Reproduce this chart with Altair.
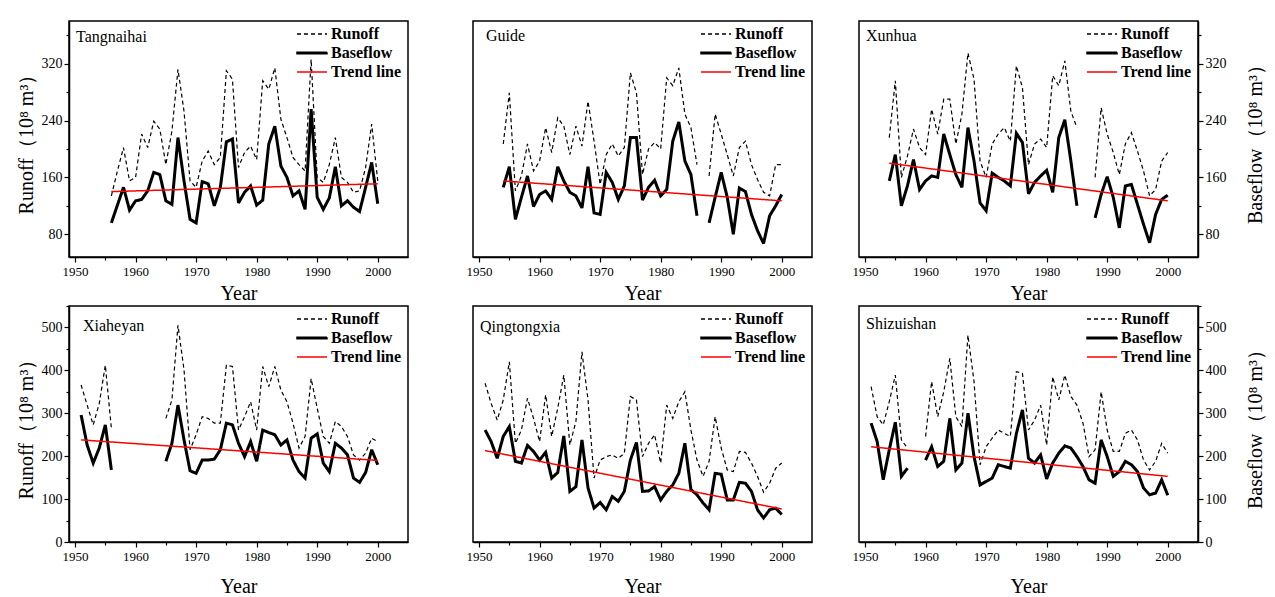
import altair as alt
import pandas as pd

FONT = "Liberation Serif"
SERIES = ["Runoff", "Baseflow", "Trend line"]

# ---------------- data ----------------
tang_years = list(range(1956, 2001))
tang_runoff = [134, 169, 202, 155, 160, 221, 202, 239, 228, 178, 225, 312, 253, 155, 146,
               183, 197, 178, 188, 310, 298, 174, 195, 204, 185, 296, 284, 314, 242, 216,
               188, 178, 169, 326, 160, 153, 178, 216, 160, 153, 139, 141, 174, 235, 155]
tang_base = [96, 121, 146, 114, 127, 129, 141, 167, 164, 127, 122, 216, 155, 101, 96,
             154, 151, 120, 146, 210, 214, 124, 139, 148, 121, 128, 207, 232, 176, 160,
             134, 141, 115, 256, 132, 115, 131, 175, 120, 127, 118, 112, 146, 181, 123]
tang_trend_years = [1956, 2000]
tang_trend = [140, 151]

guide_years = list(range(1954, 2001))
guide_runoff = [207, 279, 141, 162, 207, 169, 183, 230, 195, 244, 232, 192, 232, 204, 267,
                211, 150, 192, 207, 190, 202, 307, 279, 164, 200, 209, 200, 300, 289, 314,
                249, 230, 178, None, 162, 249, 221, 192, 162, 202, 211, 178, 157, 139, 134,
                178, 178]
guide_base = [146, 175, 101, 132, 162, 119, 136, 141, 129, 175, 155, 139, 134, 117, 175,
              110, 108, 167, 153, 129, 148, 216, 216, 128, 146, 156, 134, 143, 211, 238,
              183, 164, 106, None, 96, 132, 167, 132, 80, 145, 140, 108, 85, 67, 106,
              120, 136]
guide_trend_years = [1954, 2000]
guide_trend = [155, 127]

xun_years = list(range(1954, 2001))
xun_runoff = [216, 296, 160, 190, 228, 202, 192, 256, 221, 270, 270, 207, 249, 335, 298,
              183, 160, 207, 221, 230, 211, 317, 286, 178, 207, 214, 202, 303, 289, 324,
              253, 230, None, None, 160, 258, 221, 195, 164, 207, 223, 197, 169, 134, 143,
              183, 195]
xun_base = [155, 192, 120, 148, 185, 143, 155, 162, 160, 221, 192, 164, 146, 230, 183,
            124, 113, 166, 160, 155, 148, 222, 209, 137, 153, 162, 170, 139, 216, 241,
            183, 120, None, None, 103, 136, 161, 132, 89, 148, 150, 122, 94, 68, 108,
            129, 135]
xun_trend_years = [1954, 2000]
xun_trend = [180, 127]

xia_years = list(range(1951, 2001))
xia_runoff = [366, 319, 273, 323, 412, 265, None, None, None, None, None, None, None, None,
              288, 331, 505, 401, 215, 250, 292, 288, 277, 277, 412, 409, 261, 292, 327, 261,
              409, 362, 409, 354, 327, 277, 219, 246, 381, 312, 246, 230, 281, 269, 246,
              203, 191, 207, 242, 234]
xia_base = [296, 226, 184, 219, 273, 168, None, None, None, None, None, None, None, None,
            188, 230, 319, 238, 166, 160, 191, 191, 193, 215, 277, 273, 230, 199, 234, 188,
            261, 255, 250, 226, 238, 191, 164, 149, 242, 252, 184, 164, 230, 219, 203,
            149, 139, 162, 215, 180]
xia_trend_years = [1951, 2000]
xia_trend = [238, 190]

qing_years = list(range(1951, 2001))
qing_runoff = [370, 323, 284, 331, 420, 230, 261, 335, 288, 234,
               343, 246, 312, 389, 226, 281, 443, 331, 149, 191,
               199, 203, 195, 207, 339, 331, 199, 230, 250, 184,
               319, 288, 327, 350, 261, 191, 153, 188, 292, 219,
               168, 164, 211, 209, 184, 153, 116, 137, 172, 184]
qing_base = [261, 234, 195, 246, 269, 188, 184, 225, 211, 191,
             209, 149, 162, 247, 118, 129, 238, 126, 79, 92,
             75, 106, 95, 118, 191, 232, 118, 119, 129, 98,
             118, 133, 160, 230, 122, 110, 91, 75, 160, 158,
             98, 98, 139, 137, 118, 75, 56, 75, 79, 64]
qing_trend_years = [1951, 2000]
qing_trend = [213, 77]

shi_years = list(range(1951, 2001))
shi_runoff = [362, 292, 273, 327, 389, 238, 219, None, None,
              246, 374, 292, 350, 428, 292, 269, 482, 374, 180, 222,
              242, 261, 253, 246, 397, 393, 261, 284, 319, 226,
              385, 331, 389, 339, 319, 277, 199, 215, 350, 261,
              211, 211, 253, 261, 238, 191, 168, 188, 230, 207]
shi_base = [277, 234, 145, 215, 279, 153, 172, None, None,
            191, 222, 176, 188, 288, 168, 184, 300, 199, 133, 141,
            149, 180, 176, 172, 253, 308, 195, 184, 203, 147,
            184, 207, 224, 219, 199, 176, 145, 137, 238, 199,
            153, 164, 188, 180, 164, 126, 110, 114, 145, 109]
shi_trend_years = [1951, 2000]
shi_trend = [222, 153]

WIDTHS = {"Runoff": 1.2, "Baseflow": 3.0, "Trend line": 1.5}


def build_df(years, runoff, base, t_years, trend):
    rows = []
    for y, v in zip(years, runoff):
        rows.append({"year": y, "series": "Runoff", "value": v, "w": WIDTHS["Runoff"]})
    for y, v in zip(years, base):
        rows.append({"year": y, "series": "Baseflow", "value": v, "w": WIDTHS["Baseflow"]})
    for y, v in zip(t_years, trend):
        rows.append({"year": y, "series": "Trend line", "value": v, "w": WIDTHS["Trend line"]})
    return pd.DataFrame(rows)


def make_legend():
    return alt.Legend(
        title=None, orient="none", legendX=232, legendY=2, padding=0,
        symbolType={"expr": "datum.value === 'Baseflow' ? 'M-1.5,-0.07H1.5V0.07H-1.5Z' : 'M-1.5,0H1.5'"},
        symbolSize=400, symbolStrokeWidth=1.5,
        labelFont=FONT, labelFontSize=16, labelFontWeight="bold", labelColor="black",
        labelOffset=8, rowPadding=-1,
    )


def panel(df, name, name_dx, name_dy, ydom, ystep, ylab, yorient, ytitle, xtitle_pad):
    legend = make_legend()
    xaxis = alt.Axis(
        values=list(range(1950, 2001, 5)), format="d",
        labelExpr="datum.value % 10 === 0 ? datum.label : ''",
        tickSize={"condition": {"test": "datum.value % 10 !== 0", "value": 3}, "value": 5},
        title="Year", titlePadding=xtitle_pad, grid=False,
        labelFont=FONT, labelFontSize=13, labelColor="black", labelPadding=3,
        titleFont=FONT, titleFontSize=20, titleFontWeight="normal", titleColor="black",
        domainColor="black", domainWidth=1.5, tickColor="black", tickWidth=1.2,
        labelOverlap=False, labelFlush=False,
    )
    if yorient is None:
        yaxis = None
    else:
        start = ydom[0] if ydom[0] % ystep == 0 else ydom[0] + ystep - ydom[0] % ystep
        yvals = list(range(start, ydom[1] + 1, ystep))
        if yorient == "right":
            extra = dict(titleBaseline="top", titlePadding=19)
        else:
            extra = dict(titlePadding=5)
        yaxis = alt.Axis(
            orient=yorient, values=yvals, format="d",
            labelExpr=f"datum.value % {ylab} === 0 ? datum.label : ''",
            tickSize={"condition": {"test": f"datum.value % {ylab} !== 0", "value": 3}, "value": 5},
            title=ytitle, titleAngle=270, grid=False,
            labelFont=FONT, labelFontSize=14, labelColor="black", labelPadding=2,
            titleFont=FONT, titleFontSize=20, titleFontWeight="normal", titleColor="black",
            domainColor="black", domainWidth=1.5, tickColor="black", tickWidth=1.2,
            labelOverlap=False, labelFlush=False, **extra,
        )
    lines = alt.Chart(df).mark_line(strokeJoin="miter", strokeMiterLimit=3).encode(
        x=alt.X("year:Q", scale=alt.Scale(domain=[1949, 2005], nice=False, zero=False), axis=xaxis),
        y=alt.Y("value:Q", scale=alt.Scale(domain=list(ydom), nice=False, zero=False), axis=yaxis),
        color=alt.Color("series:N", scale=alt.Scale(domain=SERIES, range=["black", "black", "red"]), legend=legend),
        strokeDash=alt.StrokeDash("series:N", scale=alt.Scale(domain=SERIES, range=[[4, 3], [1, 0], [1, 0]]), legend=legend),
        strokeWidth=alt.StrokeWidth("w:Q", scale=None),
    )
    label = alt.Chart(pd.DataFrame({"station": [name]})).mark_text(
        align="left", baseline="middle", font=FONT, fontSize=16, color="black"
    ).encode(x=alt.value(name_dx), y=alt.value(name_dy), text="station:N")
    return alt.layer(lines, label).properties(width=339, height=236)


def indep(ch):
    return ch.resolve_scale(color="independent", strokeDash="independent").resolve_legend(
        color="independent", strokeDash="independent")


TOP = (48, 380)
BOT = (0, 550)
RUN_T = "Runoff（10⁸ m³）"
BASE_T = "Baseflow（10⁸ m³）"

p1 = panel(build_df(tang_years, tang_runoff, tang_base, tang_trend_years, tang_trend),
           "Tangnaihai", 7, 16, TOP, 40, 80, "left", RUN_T, 5)
p2 = panel(build_df(guide_years, guide_runoff, guide_base, guide_trend_years, guide_trend),
           "Guide", 13, 15, TOP, 40, 80, None, None, 5)
p3 = panel(build_df(xun_years, xun_runoff, xun_base, xun_trend_years, xun_trend),
           "Xunhua", 7, 15, TOP, 40, 80, "right", BASE_T, 5)
p4 = panel(build_df(xia_years, xia_runoff, xia_base, xia_trend_years, xia_trend),
           "Xiaheyan", 14, 20, BOT, 50, 100, "left", RUN_T, 13)
p5 = panel(build_df(qing_years, qing_runoff, qing_base, qing_trend_years, qing_trend),
           "Qingtongxia", 7, 21, BOT, 50, 100, None, None, 13)
p6 = panel(build_df(shi_years, shi_runoff, shi_base, shi_trend_years, shi_trend),
           "Shizuishan", 7, 18, BOT, 50, 100, "right", BASE_T, 13)

row1 = indep(alt.hconcat(indep(alt.hconcat(p1, p2, spacing=56)), p3, spacing=38))
row2 = indep(alt.hconcat(indep(alt.hconcat(p4, p5, spacing=56)), p6, spacing=38))

chart = indep(alt.vconcat(row1, row2, spacing=-6)).properties(
    padding={"left": 15, "top": 20, "right": 8, "bottom": 2},
    background="white",
).configure_view(stroke="black", strokeWidth=1.5)

chart.save("out.html", embed_options={"renderer": "svg", "actions": False})
